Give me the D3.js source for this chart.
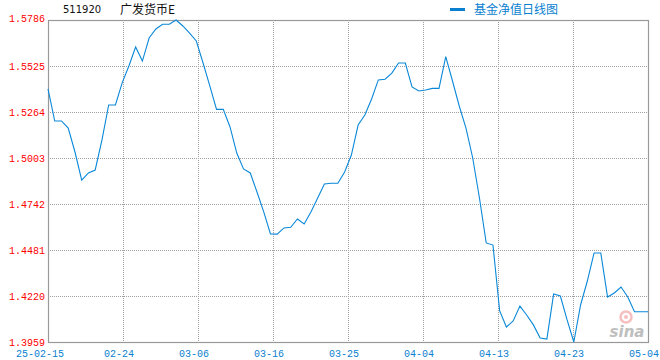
<!DOCTYPE html>
<html><head><meta charset="utf-8">
<script src="https://cdn.jsdelivr.net/npm/d3@7"></script>
<style>body{margin:0;background:#fff}svg{display:block}</style>
</head><body>
<svg id="c" width="660" height="360"></svg>
<script>
const fundCode = "511920";
const fundName = "广发货币E";
const legendLabel = "基金净值日线图";
const xTickLabels = ["25-02-15","02-24","03-06","03-16","03-25","04-04","04-13","04-23","05-04"];
const yTickValues = [1.3959,1.4220,1.4481,1.4742,1.5003,1.5264,1.5525,1.5786];
const values = [
1.5395,1.5213,1.5213,1.5173,1.5037,1.4878,1.4918,1.4935,1.5105,1.5304,
1.5304,1.5429,1.5525,1.5633,1.5553,1.5684,1.5735,1.5762,1.5762,1.5786,
1.5752,1.5712,1.5667,1.5542,1.5412,1.5279,1.5279,1.5179,1.5031,1.4941,
1.4918,1.4810,1.4697,1.4572,1.4571,1.4606,1.4610,1.4657,1.4629,1.4697,
1.4776,1.4856,1.4860,1.4860,1.4924,1.5020,1.5190,1.5247,1.5338,1.5446,
1.5450,1.5485,1.5542,1.5542,1.5406,1.5383,1.5389,1.5398,1.5398,1.5578,
1.5440,1.5298,1.5173,1.5003,1.4776,1.4521,1.4509,1.4135,1.4044,1.4078,
1.4163,1.4112,1.4056,1.3982,1.3976,1.4231,1.4220,1.4084,1.3959,1.4169,
1.4305,1.4464,1.4464,1.4214,1.4237,1.4271,1.4214,1.4131,1.4131,1.4131
];

const svg = d3.select("#c");
const L = 48, R = 648, T = 20, B = 342;
const x = d3.scaleLinear().domain([0, values.length - 1]).range([L, R]);
const y = d3.scaleLinear().domain([yTickValues[0], yTickValues[yTickValues.length-1]]).range([B, T]);
const xTickPos = xTickLabels.map((d,i) => i * (values.length - 1) / (xTickLabels.length - 1));

// grid
const g = svg.append("g");
g.selectAll("line.hg").data(yTickValues.slice(1, -1)).join("line")
  .attr("x1", L).attr("x2", R).attr("y1", d => Math.round(y(d)) + 0.5).attr("y2", d => Math.round(y(d)) + 0.5)
  .attr("stroke", "#a0a0a0").attr("stroke-dasharray", "1,1").attr("shape-rendering","crispEdges");
g.selectAll("line.vg").data(xTickPos.slice(1, -1)).join("line")
  .attr("y1", T).attr("y2", B).attr("x1", d => Math.round(x(d)) + 0.5).attr("x2", d => Math.round(x(d)) + 0.5)
  .attr("stroke", "#a0a0a0").attr("stroke-dasharray", "1,1").attr("shape-rendering","crispEdges");

// border
svg.append("rect").attr("x", L + 0.5).attr("y", T + 0.5).attr("width", R - L).attr("height", B - T)
  .attr("fill", "none").attr("stroke", "#999").attr("stroke-width", 1.2);

// y labels
svg.append("g").selectAll("text").data(yTickValues).join("text")
  .attr("x", 45).attr("y", (d,i) => y(d) + (i === yTickValues.length - 1 ? 2 : 3.5))
  .attr("text-anchor", "end").attr("fill", "#ff0000")
  .attr("font-family", "'Liberation Mono', 'DejaVu Sans Mono', monospace").attr("font-size", 10)
  .text(d => d.toFixed(4));

// x labels
svg.append("g").selectAll("text").data(xTickLabels).join("text")
  .attr("x", (d,i) => x(xTickPos[i]) + (i === 0 ? -8 : -4)).attr("y", 357)
  .attr("text-anchor", "middle").attr("fill", "#0a7fd0")
  .attr("font-family", "'Liberation Mono', 'DejaVu Sans Mono', monospace").attr("font-size", 10)
  .text(d => d);

// watermark
const wm = svg.append("g").attr("opacity", 0.5);
wm.append("circle").attr("cx", 626).attr("cy", 317).attr("r", 5.5).attr("fill", "none").attr("stroke", "#f08080").attr("stroke-width", 2.5);
wm.append("circle").attr("cx", 626).attr("cy", 317).attr("r", 2).attr("fill", "#f08080");
wm.append("text").attr("x", 627).attr("y", 337).attr("text-anchor", "middle")
  .attr("font-family", "'DejaVu Sans', sans-serif").attr("font-weight", "bold").attr("font-style", "italic")
  .attr("font-size", 15).attr("fill", "#808080").text("sina");

// line
svg.append("path").datum(values)
  .attr("fill", "none").attr("stroke", "#0a88d8").attr("stroke-width", 1.1)
  .attr("d", d3.line().x((d,i) => x(i)).y(d => y(d)));

// title
svg.append("text").attr("x", 63).attr("y", 13).attr("fill", "#111")
  .attr("font-family", "'DejaVu Sans', sans-serif").attr("font-size", 10).text(fundCode);
svg.append("text").attr("x", 120).attr("y", 14).attr("fill", "#111")
  .attr("font-family", "'Noto Sans CJK SC', sans-serif").attr("font-size", 12).text(fundName);

// legend
svg.append("line").attr("x1", 450).attr("x2", 465).attr("y1", 9.5).attr("y2", 9.5)
  .attr("stroke", "#0a7fd0").attr("stroke-width", 3);
svg.append("text").attr("x", 474).attr("y", 13.5).attr("fill", "#0a7fd0")
  .attr("font-family", "'Noto Sans CJK SC', sans-serif").attr("font-size", 12).text(legendLabel);
</script>
</body></html>
